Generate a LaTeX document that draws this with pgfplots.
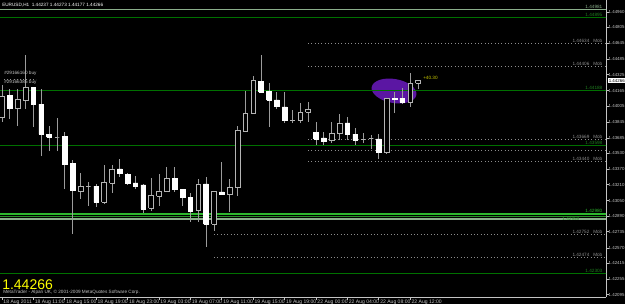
\documentclass[border=0pt]{standalone}
\usepackage{pgfplots}
\pgfplotsset{compat=1.18}
\usepackage{fontspec}
\setmainfont{Liberation Sans}
\definecolor{axgray}{HTML}{C4C4C4}
\definecolor{wickgray}{HTML}{9C9C9C}
\definecolor{outgray}{HTML}{B4B4B4}
\definecolor{dkgreen}{HTML}{007000}
\definecolor{ltgreen}{HTML}{2DB82D}
\definecolor{sgreen}{HTML}{8AAE8A}
\definecolor{dotgray}{HTML}{8C8C8C}
\definecolor{purp}{HTML}{5B16A3}
\definecolor{mtyellow}{HTML}{FFFF00}
\newcommand\tf{\fontsize{3.8pt}{4.2pt}\selectfont}
\newcommand\yf{\fontsize{3.3pt}{3.8pt}\selectfont}
\newcommand\smf{\fontsize{3.5pt}{4pt}\selectfont}
\pgfplotsset{
  cb/.style={draw=outgray, fill=black, line width=0.5pt},
  cr/.style={draw=white, fill=white, line width=0.5pt},
  cd/.style={draw=outgray, fill=black, line width=0.5pt},
  wk/.style={draw=wickgray, line width=0.55pt},
}
% \candle{index}{low}{body low}{body high}{high}{type}
\newcommand\candle[6]{%
  \pgfmathsetmacro\xa{#1-0.3}\pgfmathsetmacro\xb{#1+0.3}%
  \edef\tmp{\noexpand\addplot[wk] coordinates {(#1,#2) (#1,#3)};
    \noexpand\addplot[wk] coordinates {(#1,#4) (#1,#5)};
    \noexpand\addplot[c#6] coordinates {(\xa,#3) (\xb,#3) (\xb,#4) (\xa,#4) (\xa,#3)};}%
  \tmp}
\begin{document}
\begin{tikzpicture}
\fill[black] (0,0) rectangle (468.75pt,228pt);
\useasboundingbox (0,0) rectangle (468.75pt,228pt);
\begin{axis}[
  at={(0pt,5.25pt)}, anchor=south west, scale only axis,
  width=454.5pt, height=222.75pt,
  xmin=-0.2548, xmax=76.943, ymin=1.42073, ymax=1.45082,
  axis x line*=bottom, axis y line*=right,
  axis line style={draw=axgray, line width=0.6pt, -},
  xtick={0,4,...,52},
  xticklabels={18 Aug 2011, 18 Aug 11:00, 18 Aug 15:00, 18 Aug 19:00, 18 Aug 23:00, 19 Aug 03:00, 19 Aug 07:00, 19 Aug 11:00, 19 Aug 15:00, 19 Aug 19:00, 22 Aug 00:00, 22 Aug 04:00, 22 Aug 08:00, 22 Aug 12:00},
  x tick label style={anchor=north west, font=\tf, text=axgray, inner sep=0.4pt, xshift=0.5pt, yshift=0.6pt},
  ytick={1.44960,1.44805,1.44645,1.44485,1.44325,1.44165,1.44005,1.43845,1.43685,1.43530,1.43370,1.43210,1.43050,1.42890,1.42735,1.42570,1.42415,1.42255,1.42095},
  yticklabels={1.44960,1.44805,1.44645,1.44485,1.44325,1.44165,1.44005,1.43845,1.43685,1.43530,1.43370,1.43210,1.43050,1.42890,1.42735,1.42570,1.42415,1.42255,1.42095},
  y tick label style={anchor=west, font=\yf, text=axgray, inner sep=0.3pt, xshift=-0.5pt},
  tick align=outside, major tick length=2pt,
  tick style={draw=axgray, line width=0.5pt},
]
% highlighted area
\fill[purp] (axis cs:49.94,1.44160) ellipse [x radius=17pt, y radius=9pt, rotate=-10];
% level lines
\addplot[sgreen, line width=0.6pt] coordinates {(-1,1.44990) (80,1.44990)};
\addplot[dkgreen, line width=0.7pt] coordinates {(-1,1.44909) (80,1.44909)};
\addplot[dkgreen, line width=0.7pt] coordinates {(-1,1.44170) (80,1.44170)};
\addplot[dkgreen, line width=0.7pt] coordinates {(-1,1.43613) (80,1.43613)};
\addplot[ltgreen, line width=0.8pt] coordinates {(-1,1.42914) (80,1.42914)};
\addplot[ltgreen!80!black, line width=0.7pt] coordinates {(-1,1.42893) (80,1.42893)};
\addplot[sgreen, line width=0.8pt] coordinates {(-1,1.42863) (80,1.42863)};
\addplot[dkgreen, line width=0.7pt] coordinates {(-1,1.42316) (80,1.42316)};
\addplot[dotgray, dotted, line width=0.5pt] coordinates {(39,1.44646) (80,1.44646)};
\addplot[dotgray, dotted, line width=0.5pt] coordinates {(39,1.44413) (80,1.44413)};
\addplot[dotgray, dotted, line width=0.5pt] coordinates {(39,1.43674) (80,1.43674)};
\addplot[dotgray, dotted, line width=0.5pt] coordinates {(39,1.43562) (80,1.43562)};
\addplot[dotgray, dotted, line width=0.5pt] coordinates {(39,1.43451) (80,1.43451)};
\addplot[dotgray, dotted, line width=0.5pt] coordinates {(27,1.42711) (80,1.42711)};
\addplot[dotgray, dotted, line width=0.5pt] coordinates {(27,1.42478) (80,1.42478)};
% candles
\candle{0}{1.43846}{1.43896}{1.44109}{1.44221}{b}
\candle{1}{1.43876}{1.43988}{1.44119}{1.44180}{r}
\candle{2}{1.43805}{1.43988}{1.44079}{1.44180}{b}
\candle{3}{1.43977}{1.44069}{1.44200}{1.44525}{b}
\candle{4}{1.43795}{1.44028}{1.44200}{1.44200}{r}
\candle{5}{1.43501}{1.43724}{1.44028}{1.44180}{r}
\candle{6}{1.43552}{1.43694}{1.43724}{1.43805}{r}
\candle{7}{1.43552}{1.43694}{1.43694}{1.43886}{d}
\candle{8}{1.43167}{1.43420}{1.43704}{1.43744}{r}
\candle{9}{1.42711}{1.43157}{1.43430}{1.43461}{r}
\candle{10}{1.43066}{1.43147}{1.43197}{1.43329}{b}
\candle{11}{1.42995}{1.43197}{1.43197}{1.43238}{d}
\candle{12}{1.42985}{1.43035}{1.43197}{1.43218}{r}
\candle{13}{1.43015}{1.43035}{1.43238}{1.43410}{b}
\candle{14}{1.43127}{1.43228}{1.43370}{1.43410}{b}
\candle{15}{1.43289}{1.43329}{1.43370}{1.43471}{r}
\candle{16}{1.43208}{1.43228}{1.43319}{1.43329}{r}
\candle{17}{1.43167}{1.43197}{1.43228}{1.43299}{r}
\candle{18}{1.42924}{1.42964}{1.43208}{1.43218}{r}
\candle{19}{1.42944}{1.42975}{1.43106}{1.43278}{b}
\candle{20}{1.42995}{1.43096}{1.43147}{1.43319}{b}
\candle{21}{1.43137}{1.43147}{1.43278}{1.43390}{b}
\candle{22}{1.43137}{1.43167}{1.43278}{1.43390}{r}
\candle{23}{1.42995}{1.43086}{1.43167}{1.43167}{r}
\candle{24}{1.42833}{1.42944}{1.43086}{1.43127}{r}
\candle{25}{1.42833}{1.42954}{1.43218}{1.43268}{b}
\candle{26}{1.42580}{1.42812}{1.43218}{1.43289}{r}
\candle{27}{1.42742}{1.42812}{1.43147}{1.43147}{b}
\candle{28}{1.43116}{1.43116}{1.43137}{1.43441}{r}
\candle{29}{1.42934}{1.43116}{1.43187}{1.43268}{b}
\candle{30}{1.43096}{1.43187}{1.43765}{1.43805}{b}
\candle{31}{1.43755}{1.43755}{1.43937}{1.44160}{b}
\candle{32}{1.43937}{1.43937}{1.44271}{1.44312}{b}
\candle{33}{1.44150}{1.44150}{1.44261}{1.44525}{r}
\candle{34}{1.43795}{1.44069}{1.44160}{1.44241}{r}
\candle{35}{1.43977}{1.44008}{1.44069}{1.44150}{r}
\candle{36}{1.43836}{1.43866}{1.43998}{1.44150}{r}
\candle{37}{1.43836}{1.43866}{1.43866}{1.43967}{d}
\candle{38}{1.43836}{1.43866}{1.43947}{1.44038}{b}
\candle{39}{1.43846}{1.43947}{1.43977}{1.44048}{b}
\candle{40}{1.43613}{1.43674}{1.43744}{1.43846}{r}
\candle{41}{1.43613}{1.43653}{1.43684}{1.43744}{r}
\candle{42}{1.43633}{1.43663}{1.43734}{1.43846}{b}
\candle{43}{1.43663}{1.43734}{1.43836}{1.43927}{b}
\candle{44}{1.43663}{1.43724}{1.43836}{1.43896}{r}
\candle{45}{1.43613}{1.43663}{1.43724}{1.43785}{r}
\candle{46}{1.43633}{1.43674}{1.43674}{1.43734}{d}
\candle{47}{1.43572}{1.43684}{1.43684}{1.43714}{d}
\candle{48}{1.43471}{1.43542}{1.43674}{1.43724}{r}
\candle{49}{1.43522}{1.43542}{1.44089}{1.44089}{b}
\candle{50}{1.43937}{1.44079}{1.44089}{1.44150}{r}
\candle{51}{1.44028}{1.44048}{1.44089}{1.44190}{r}
\candle{52}{1.43998}{1.44048}{1.44241}{1.44342}{b}
\candle{53}{1.44177}{1.44237}{1.44266}{1.44273}{b}
\end{axis}
\begin{scope}[x=0.75pt,y=-0.75pt,yshift=228pt]
\node[anchor=west, font=\smf, text=white, inner sep=0pt] at (2,5) {EURUSD,H1\ \ 1.44237 1.44273 1.44177 1.44266};
\node[anchor=west, font=\smf, text=axgray, inner sep=0pt] at (4,73) {\#29166160 buy};
\draw[dotgray, dotted, line width=0.4pt] (4,79) -- (36,79);
\node[anchor=west, font=\smf, text=axgray, inner sep=0pt] at (4,82.5) {\#29166385 buy};
\node[anchor=west, font=\smf, text=mtyellow!80!black, inner sep=0pt] at (423,78) {+40.30};
% level labels
\node[anchor=south east, font=\smf, text=sgreen, inner sep=0.3pt] at (603,9) {1.44981};
\node[anchor=south east, font=\smf, text=ltgreen!70!black, inner sep=0.3pt] at (603,17) {1.44895};
\node[anchor=south east, font=\smf, text=dotgray, inner sep=0.3pt] at (603,43) {1.44634\ \ \ Mob};
\node[anchor=south east, font=\smf, text=dotgray, inner sep=0.3pt] at (603,66) {1.44406\ \ \ Mob};
\node[anchor=south east, font=\smf, text=ltgreen!70!black, inner sep=0.3pt] at (603,90) {1.44188};
\node[anchor=south east, font=\smf, text=dotgray, inner sep=0.3pt] at (603,139) {1.43669\ \ \ Mob};
\node[anchor=south east, font=\smf, text=ltgreen!70!black, inner sep=0.3pt] at (603,145) {1.43598};
\node[anchor=south east, font=\smf, text=dotgray, inner sep=0.3pt] at (603,161) {1.43440\ \ \ Mob};
\node[anchor=south east, font=\smf, text=ltgreen, inner sep=0.3pt] at (603,213.5) {1.42980};
\node[anchor=north east, font=\smf, text=ltgreen!80!black, inner sep=0.3pt] at (580,216.5) {1.42959};
\node[anchor=south east, font=\smf, text=dotgray, inner sep=0.3pt] at (603,234) {1.42752\ \ \ Mob};
\node[anchor=south east, font=\smf, text=dotgray, inner sep=0.3pt] at (603,257) {1.42474\ \ \ Mob};
\node[anchor=south east, font=\smf, text=ltgreen!70!black, inner sep=0.3pt] at (603,273) {1.42303};
% current price
\node[anchor=west, font=\yf, text=black, fill=white, inner sep=0.4pt] at (608,80.5) {1.44266};
% bottom-left texts
\node[anchor=base west, font=\fontsize{10.5pt}{11pt}\selectfont, text=mtyellow, inner sep=0pt] at (2,289) {1.44266};
\node[anchor=west, font=\smf, text=axgray, inner sep=0pt] at (3,292.5) {MetaTrader - Alpari UK, © 2001-2009 MetaQuotes Software Corp.};
\end{scope}
\end{tikzpicture}
\end{document}
